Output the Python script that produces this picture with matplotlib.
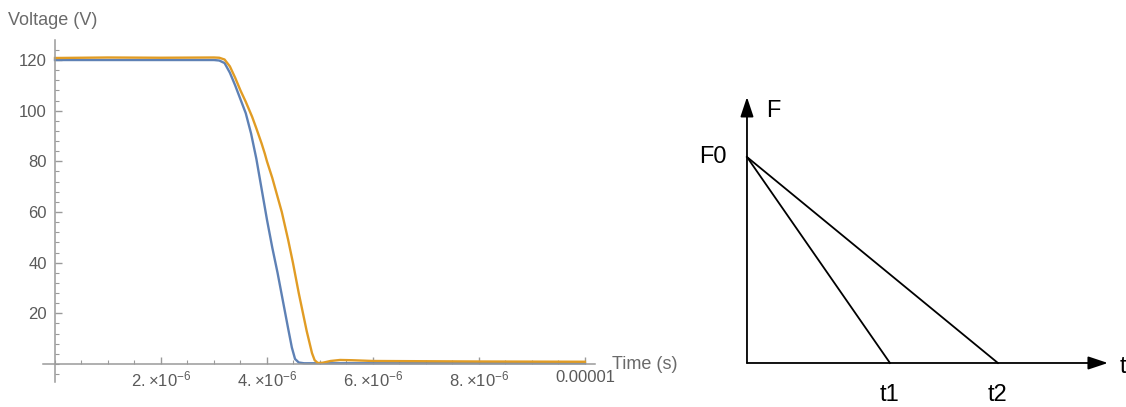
import numpy as np
import matplotlib
matplotlib.use("Agg")
import matplotlib.pyplot as plt
from matplotlib.ticker import FixedLocator, FixedFormatter, MultipleLocator

plt.rcParams['font.family'] = ['Liberation Sans', 'DejaVu Sans']
plt.rcParams['mathtext.default'] = 'regular'

# left chart: measured voltage, time in microseconds
blue_t = [0, 1.0, 2.0, 3.0, 3.1, 3.2, 3.3, 3.4, 3.5, 3.6, 3.7, 3.8, 3.9, 4.0, 4.1, 4.2, 4.3, 4.4, 4.47, 4.53, 4.6, 4.7, 5.0, 6.0, 8.0, 10.0]
blue_v = [120, 120, 120, 120, 119.8, 118.8, 115, 110, 104.5, 99, 91, 81, 69, 57, 46, 36, 25, 14, 6.5, 2, 0.6, 0.3, 0.3, 0.3, 0.3, 0.3]

orange_t = [0, 1.0, 2.0, 3.0, 3.1, 3.2, 3.3, 3.4, 3.5, 3.6, 3.72, 3.8, 3.9, 3.96, 4.0, 4.1, 4.2, 4.28, 4.4, 4.49, 4.6, 4.68, 4.75, 4.85, 4.9, 4.96, 5.05, 5.2, 5.38, 5.6, 6.0, 8.0, 10.0]
orange_v = [120.8, 121, 120.9, 121, 120.9, 120.2, 117.5, 113, 108, 103.5, 97.6, 93, 87, 83, 80, 73.5, 66, 60, 49, 40, 28, 20, 13, 4.3, 1.5, 0.4, 0.5, 1.2, 1.6, 1.5, 1.2, 1.0, 0.9]

x_ticks = [2e-6, 4e-6, 6e-6, 8e-6, 1e-5]
x_labels = [r"$2.{\times}10^{-6}$", r"$4.{\times}10^{-6}$", r"$6.{\times}10^{-6}$", r"$8.{\times}10^{-6}$", "0.00001"]
y_ticks = [20, 40, 60, 80, 100, 120]

# right diagram
F0 = 1.0
t1 = 1.0
t2 = 1.755

fig = plt.figure(figsize=(11.26, 4.07), dpi=100)

ax = fig.add_axes([0.0382, 0.0614, 0.4902, 0.8403])
ax.plot(np.array(blue_t) * 1e-6, blue_v, color="#5E81B5", lw=1.7)
ax.plot(np.array(orange_t) * 1e-6, orange_v, color="#E19C24", lw=1.7)
ax.set_xlim(-0.226e-6, 10.19e-6)
ax.set_ylim(-7.1, 127.9)

axis_col = "#9a9a9a"
for s in ['top', 'right']:
    ax.spines[s].set_visible(False)
ax.spines['left'].set_position(('data', 0))
ax.spines['bottom'].set_position(('data', 0))
for s in ['left', 'bottom']:
    ax.spines[s].set_color(axis_col)
    ax.spines[s].set_linewidth(1.1)

ax.xaxis.set_major_locator(FixedLocator(x_ticks))
ax.xaxis.set_major_formatter(FixedFormatter(x_labels))
ax.xaxis.set_minor_locator(MultipleLocator(0.5e-6))
ax.yaxis.set_major_locator(FixedLocator(y_ticks))
ax.yaxis.set_minor_locator(MultipleLocator(4))
ax.tick_params(which='major', direction='in', length=5, width=1.0, color=axis_col,
               labelcolor="#5a5a5a", labelsize=12)
ax.tick_params(which='minor', direction='in', length=2.8, width=0.8, color=axis_col)
ax.tick_params(axis='x', which='major', pad=4)
ax.tick_params(axis='y', which='major', pad=6)

ax.annotate("Time (s)", xy=(1, 0), xycoords=('axes fraction', 'data'), xytext=(12, 0),
            textcoords='offset points', ha='left', va='center', fontsize=13, color="#6a6a6a")
fig.text(8 / 1126, 1 - 25 / 407, "Voltage (V)", ha='left', va='baseline', fontsize=13, color="#6a6a6a")

# schematic F vs t
ax2 = fig.add_axes([0.6126, 0.0069, 0.3873, 0.8098])
ax2.set_xlim(-0.4, 2.65)
ax2.set_ylim(-0.2, 1.4)
ax2.axis('off')

arrow = dict(arrowstyle='-|>,head_length=0.6,head_width=0.2', color='black', lw=1.3,
             shrinkA=0, shrinkB=0, mutation_scale=20)
ax2.annotate("", xy=(0, 1.291), xytext=(0, 0), arrowprops=arrow)
ax2.annotate("", xy=(2.524, 0), xytext=(0, 0), arrowprops=arrow)
ax2.plot([0, t1], [F0, 0], color='black', lw=1.3)
ax2.plot([0, t2], [F0, 0], color='black', lw=1.3)

ax2.text(-0.14, F0, "F0", ha='right', va='center', fontsize=17)
ax2.text(0.133, 1.223, "F", ha='left', va='center', fontsize=17)
ax2.text(t1, -0.155, "t1", ha='center', va='center', fontsize=17)
ax2.text(t2, -0.155, "t2", ha='center', va='center', fontsize=17)
ax2.text(2.608, -0.02, "t", ha='left', va='center', fontsize=17, clip_on=False)

plt.savefig("out.png", dpi=100)
